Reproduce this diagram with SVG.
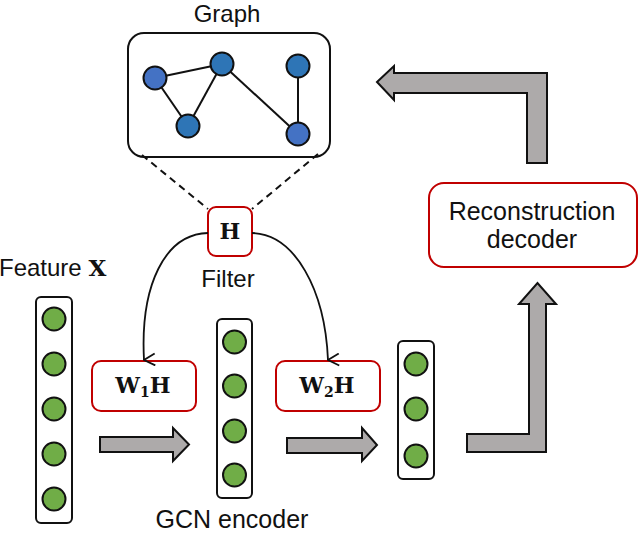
<svg xmlns="http://www.w3.org/2000/svg" width="640" height="535" viewBox="0 0 640 535">
<defs>
<style>
.lbl{font-family:"Liberation Sans",Arial,sans-serif;font-size:24px;fill:#111}
.math{font-family:"DejaVu Serif","Liberation Serif",serif;font-weight:bold;fill:#111}
.red{fill:#fff;stroke:#C00000;stroke-width:2}
.col{fill:#fff;stroke:#111;stroke-width:2}
.g{fill:#70AD47;stroke:#111;stroke-width:2}
.b1{fill:#2E75B6;stroke:#111;stroke-width:2}
.b2{fill:#4472C4;stroke:#111;stroke-width:2}
.edge{stroke:#111;stroke-width:2;fill:none}
.dash{stroke:#111;stroke-width:2;stroke-dasharray:7,5;fill:none}
.curve{stroke:#111;stroke-width:1.8;fill:none;marker-end:url(#v)}
.fat{fill:#ADAAAA;stroke:#111;stroke-width:2;stroke-linejoin:miter}
</style>
<marker id="v" viewBox="0 0 14 13" refX="7" refY="12" markerWidth="14" markerHeight="13" markerUnits="userSpaceOnUse" orient="auto">
<path d="M1,1 L7,12 L13,1" fill="none" stroke="#111" stroke-width="1.8"/>
</marker>
</defs>

<g id="graph">
<text class="lbl" x="227" y="22" text-anchor="middle">Graph</text>
<rect x="128" y="33" width="202" height="124" rx="16" fill="#fff" stroke="#111" stroke-width="2"/>
<line class="edge" x1="155" y1="78" x2="222" y2="64"/>
<line class="edge" x1="155" y1="78" x2="188" y2="126"/>
<line class="edge" x1="188" y1="126" x2="222" y2="64"/>
<line class="edge" x1="222" y1="64" x2="298" y2="134"/>
<line class="edge" x1="298" y1="66" x2="298" y2="134"/>
<circle class="b2" cx="155" cy="78" r="11.5"/>
<circle class="b1" cx="222" cy="64" r="11.5"/>
<circle class="b1" cx="188" cy="126" r="11.5"/>
<circle class="b1" cx="298" cy="66" r="11.5"/>
<circle class="b2" cx="298" cy="134" r="11.5"/>
</g>

<g id="filter">
<rect class="red" x="208" y="207" width="44" height="49" rx="8"/>
<text class="math" x="230" y="239" font-size="22" text-anchor="middle">H</text>
<text class="lbl" x="228" y="287" text-anchor="middle">Filter</text>
</g>

<g id="feature">
<text class="lbl" x="-1" y="276">Feature <tspan class="math" font-size="23">X</tspan></text>
<rect class="col" x="36" y="297" width="36" height="226" rx="5"/>
<circle class="g" cx="54" cy="319" r="11.5"/>
<circle class="g" cx="54" cy="364" r="11.5"/>
<circle class="g" cx="54" cy="409" r="11.5"/>
<circle class="g" cx="54" cy="454" r="11.5"/>
<circle class="g" cx="54" cy="499" r="11.5"/>
</g>

<g id="w1h">
<rect class="red" x="92" y="361" width="104" height="50" rx="9"/>
<text class="math" x="143" y="393" font-size="22" text-anchor="middle">W<tspan font-size="14" dy="4">1</tspan><tspan dy="-4">H</tspan></text>
</g>

<g id="encoder">
<rect class="col" x="217" y="319" width="35" height="179" rx="5"/>
<circle class="g" cx="234.5" cy="342" r="11.5"/>
<circle class="g" cx="234.5" cy="386" r="11.5"/>
<circle class="g" cx="234.5" cy="431" r="11.5"/>
<circle class="g" cx="234.5" cy="475" r="11.5"/>
<text class="lbl" x="232" y="528" text-anchor="middle" style="font-size:25px">GCN encoder</text>
</g>

<g id="w2h">
<rect class="red" x="276" y="361" width="104" height="50" rx="9"/>
<text class="math" x="327" y="393" font-size="22" text-anchor="middle">W<tspan font-size="14" dy="4">2</tspan><tspan dy="-4">H</tspan></text>
</g>

<g id="output">
<rect class="col" x="398" y="341" width="36" height="138" rx="5"/>
<circle class="g" cx="416" cy="364" r="11.5"/>
<circle class="g" cx="416" cy="409" r="11.5"/>
<circle class="g" cx="416" cy="456" r="11.5"/>
</g>

<g id="decoder">
<rect class="red" x="429" y="183" width="208" height="84" rx="15"/>
<text class="lbl" x="532" y="220" text-anchor="middle" style="font-size:25px">Reconstruction</text>
<text class="lbl" x="532" y="248" text-anchor="middle" style="font-size:25px">decoder</text>
</g>

<g id="connectors">
<line class="dash" x1="142" y1="155" x2="208" y2="209"/>
<line class="dash" x1="318" y1="154" x2="252" y2="209"/>
<path class="curve" d="M208,233 C165,234 140,285 144,360"/>
<path class="curve" d="M252,233 C295,234 325,290 328,360"/>
<polygon class="fat" points="100,437 173,437 173,428 189,444.5 173,461 173,452 100,452"/>
<polygon class="fat" points="287,438 362,438 362,428 377,445 362,461 362,453 287,453"/>
<polygon class="fat" points="467,434 529,434 529,304 519,304 537.5,283 556,304 546,304 546,452 467,452"/>
<polygon class="fat" points="377,82 394,66 394,73 547,73 547,163 527,163 527,93 394,93 394,100"/>
</g>
</svg>
